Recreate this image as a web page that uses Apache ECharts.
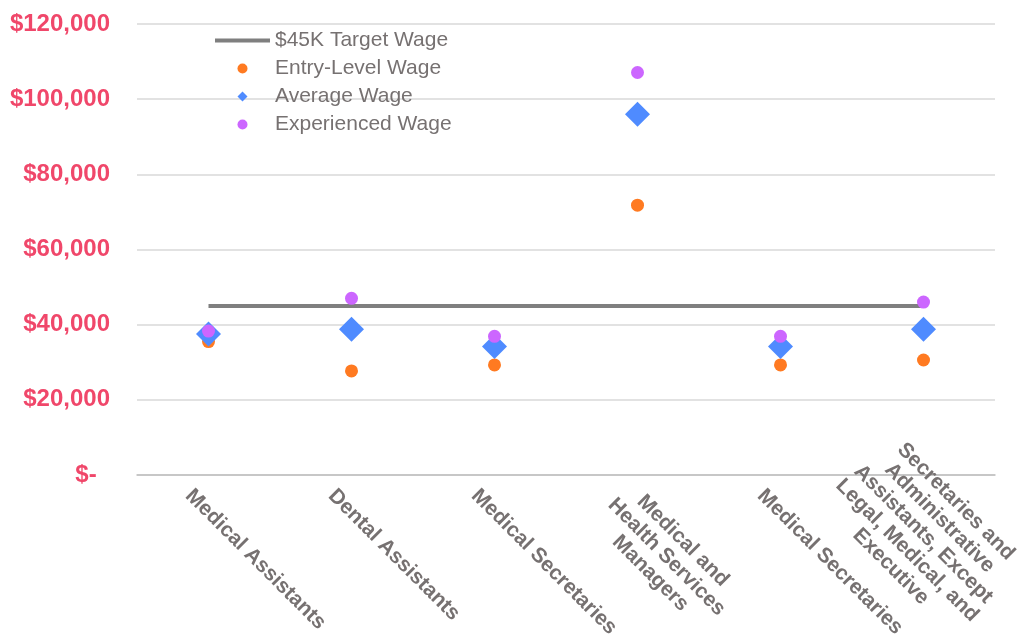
<!DOCTYPE html>
<html>
<head>
<meta charset="utf-8">
<script src="https://cdn.jsdelivr.net/npm/echarts@6/dist/echarts.min.js"></script>
<style>
  html, body { margin: 0; padding: 0; background: #fff; }
  #chart { width: 1019px; height: 643px; }
</style>
</head>
<body>
<div id="chart"></div>
<script>
// Occupations (line breaks as they wrap under the axis)
const categories = [
  'Medical Assistants',
  'Dental Assistants',
  'Medical Secretaries',
  'Medical and\nHealth Services\nManagers',
  'Medical Secretaries',
  'Secretaries and\nAdministrative\nAssistants, Except\nLegal, Medical, and\nExecutive'
];
const targetWage = [45000, 45000, 45000, 45000, 45000, 45000];
const entryWage = [35500, 27700, 29300, 71800, 29300, 30600];
const averageWage = [37500, 38800, 34200, 96000, 34200, 38800];
const experiencedWage = [38300, 47000, 36900, 107100, 36900, 46000];
const yTicks = { min: 0, max: 120000, interval: 20000 };

const FONT = '"Liberation Sans", Arial, sans-serif';

// Offsets of the slanted category labels, keyed by their number of lines
const LABEL_PADDING = {
  1: [166, 0, 0, 55],
  3: [188, 0, 0, 57],
  5: [197, 0, 0, 2]
};

function money(v) {
  if (v === 0) return '$-  ';
  return '$' + v.toLocaleString('en-US');
}

const categoryData = categories.map(function (name) {
  const lines = name.split('\n').length;
  return { value: name, textStyle: { padding: LABEL_PADDING[lines] || LABEL_PADDING[1] } };
});

const chart = echarts.init(document.getElementById('chart'), null, { renderer: 'canvas' });

chart.setOption({
  animation: false,
  backgroundColor: '#ffffff',
  grid: {
    left: 137, right: 24, top: 24, bottom: 168,
    containLabel: false,
    outerBoundsMode: 'none'
  },
  legend: {
    orient: 'vertical',
    left: 210,
    top: 25,
    itemWidth: 55,
    itemHeight: 10,
    itemGap: 7,
    padding: 5,
    symbolKeepAspect: true,
    textStyle: { color: '#767171', fontSize: 21, fontFamily: FONT, lineHeight: 21 },
    data: [
      { name: '$45K Target Wage', icon: 'path://M0,0H55V4H0Z', itemStyle: { color: '#7f7f7f' } },
      { name: 'Entry-Level Wage', icon: 'circle' },
      { name: 'Average Wage', icon: 'path://M0,-1L1,0L0,1L-1,0Z' },
      { name: 'Experienced Wage', icon: 'circle' }
    ]
  },
  xAxis: {
    type: 'category',
    data: categoryData,
    boundaryGap: true,
    axisLine: { show: true, lineStyle: { color: '#bfbfbf', width: 1.5 } },
    axisTick: { show: false },
    splitLine: { show: false },
    axisLabel: {
      interval: 0,
      rotate: -45,
      margin: -80,
      color: '#767171',
      fontSize: 21,
      fontWeight: 'bold',
      fontFamily: FONT,
      lineHeight: 23,
      formatter: function (v) {
        return v.split('\n').map(function (l) { return '{c|' + l + '}'; }).join('\n');
      },
      rich: {
        c: {
          align: 'center',
          color: '#767171',
          fontSize: 21,
          fontWeight: 'bold',
          fontFamily: FONT,
          lineHeight: 23
        }
      }
    }
  },
  yAxis: {
    type: 'value',
    min: yTicks.min,
    max: yTicks.max,
    interval: yTicks.interval,
    axisLine: { show: false },
    axisTick: { show: false },
    splitLine: { show: true, lineStyle: { color: '#d9d9d9', width: 1.5 } },
    axisLabel: {
      margin: 27,
      color: '#f0476a',
      fontSize: 24,
      fontWeight: 'bold',
      fontFamily: FONT,
      formatter: money
    }
  },
  series: [
    {
      name: '$45K Target Wage',
      type: 'line',
      data: targetWage,
      symbol: 'none',
      showSymbol: false,
      lineStyle: { color: '#7f7f7f', width: 4 },
      itemStyle: { color: '#7f7f7f' },
      z: 2
    },
    {
      name: 'Entry-Level Wage',
      type: 'scatter',
      data: entryWage,
      symbol: 'circle',
      symbolSize: 13,
      itemStyle: { color: '#ff7a21', opacity: 1 },
      z: 3
    },
    {
      name: 'Average Wage',
      type: 'scatter',
      data: averageWage,
      symbol: 'diamond',
      symbolSize: 25,
      itemStyle: { color: '#4f8bff', opacity: 1 },
      z: 4
    },
    {
      name: 'Experienced Wage',
      type: 'scatter',
      data: experiencedWage,
      symbol: 'circle',
      symbolSize: 13,
      itemStyle: { color: '#cc66ff', opacity: 1 },
      z: 5
    }
  ]
});
</script>
</body>
</html>
